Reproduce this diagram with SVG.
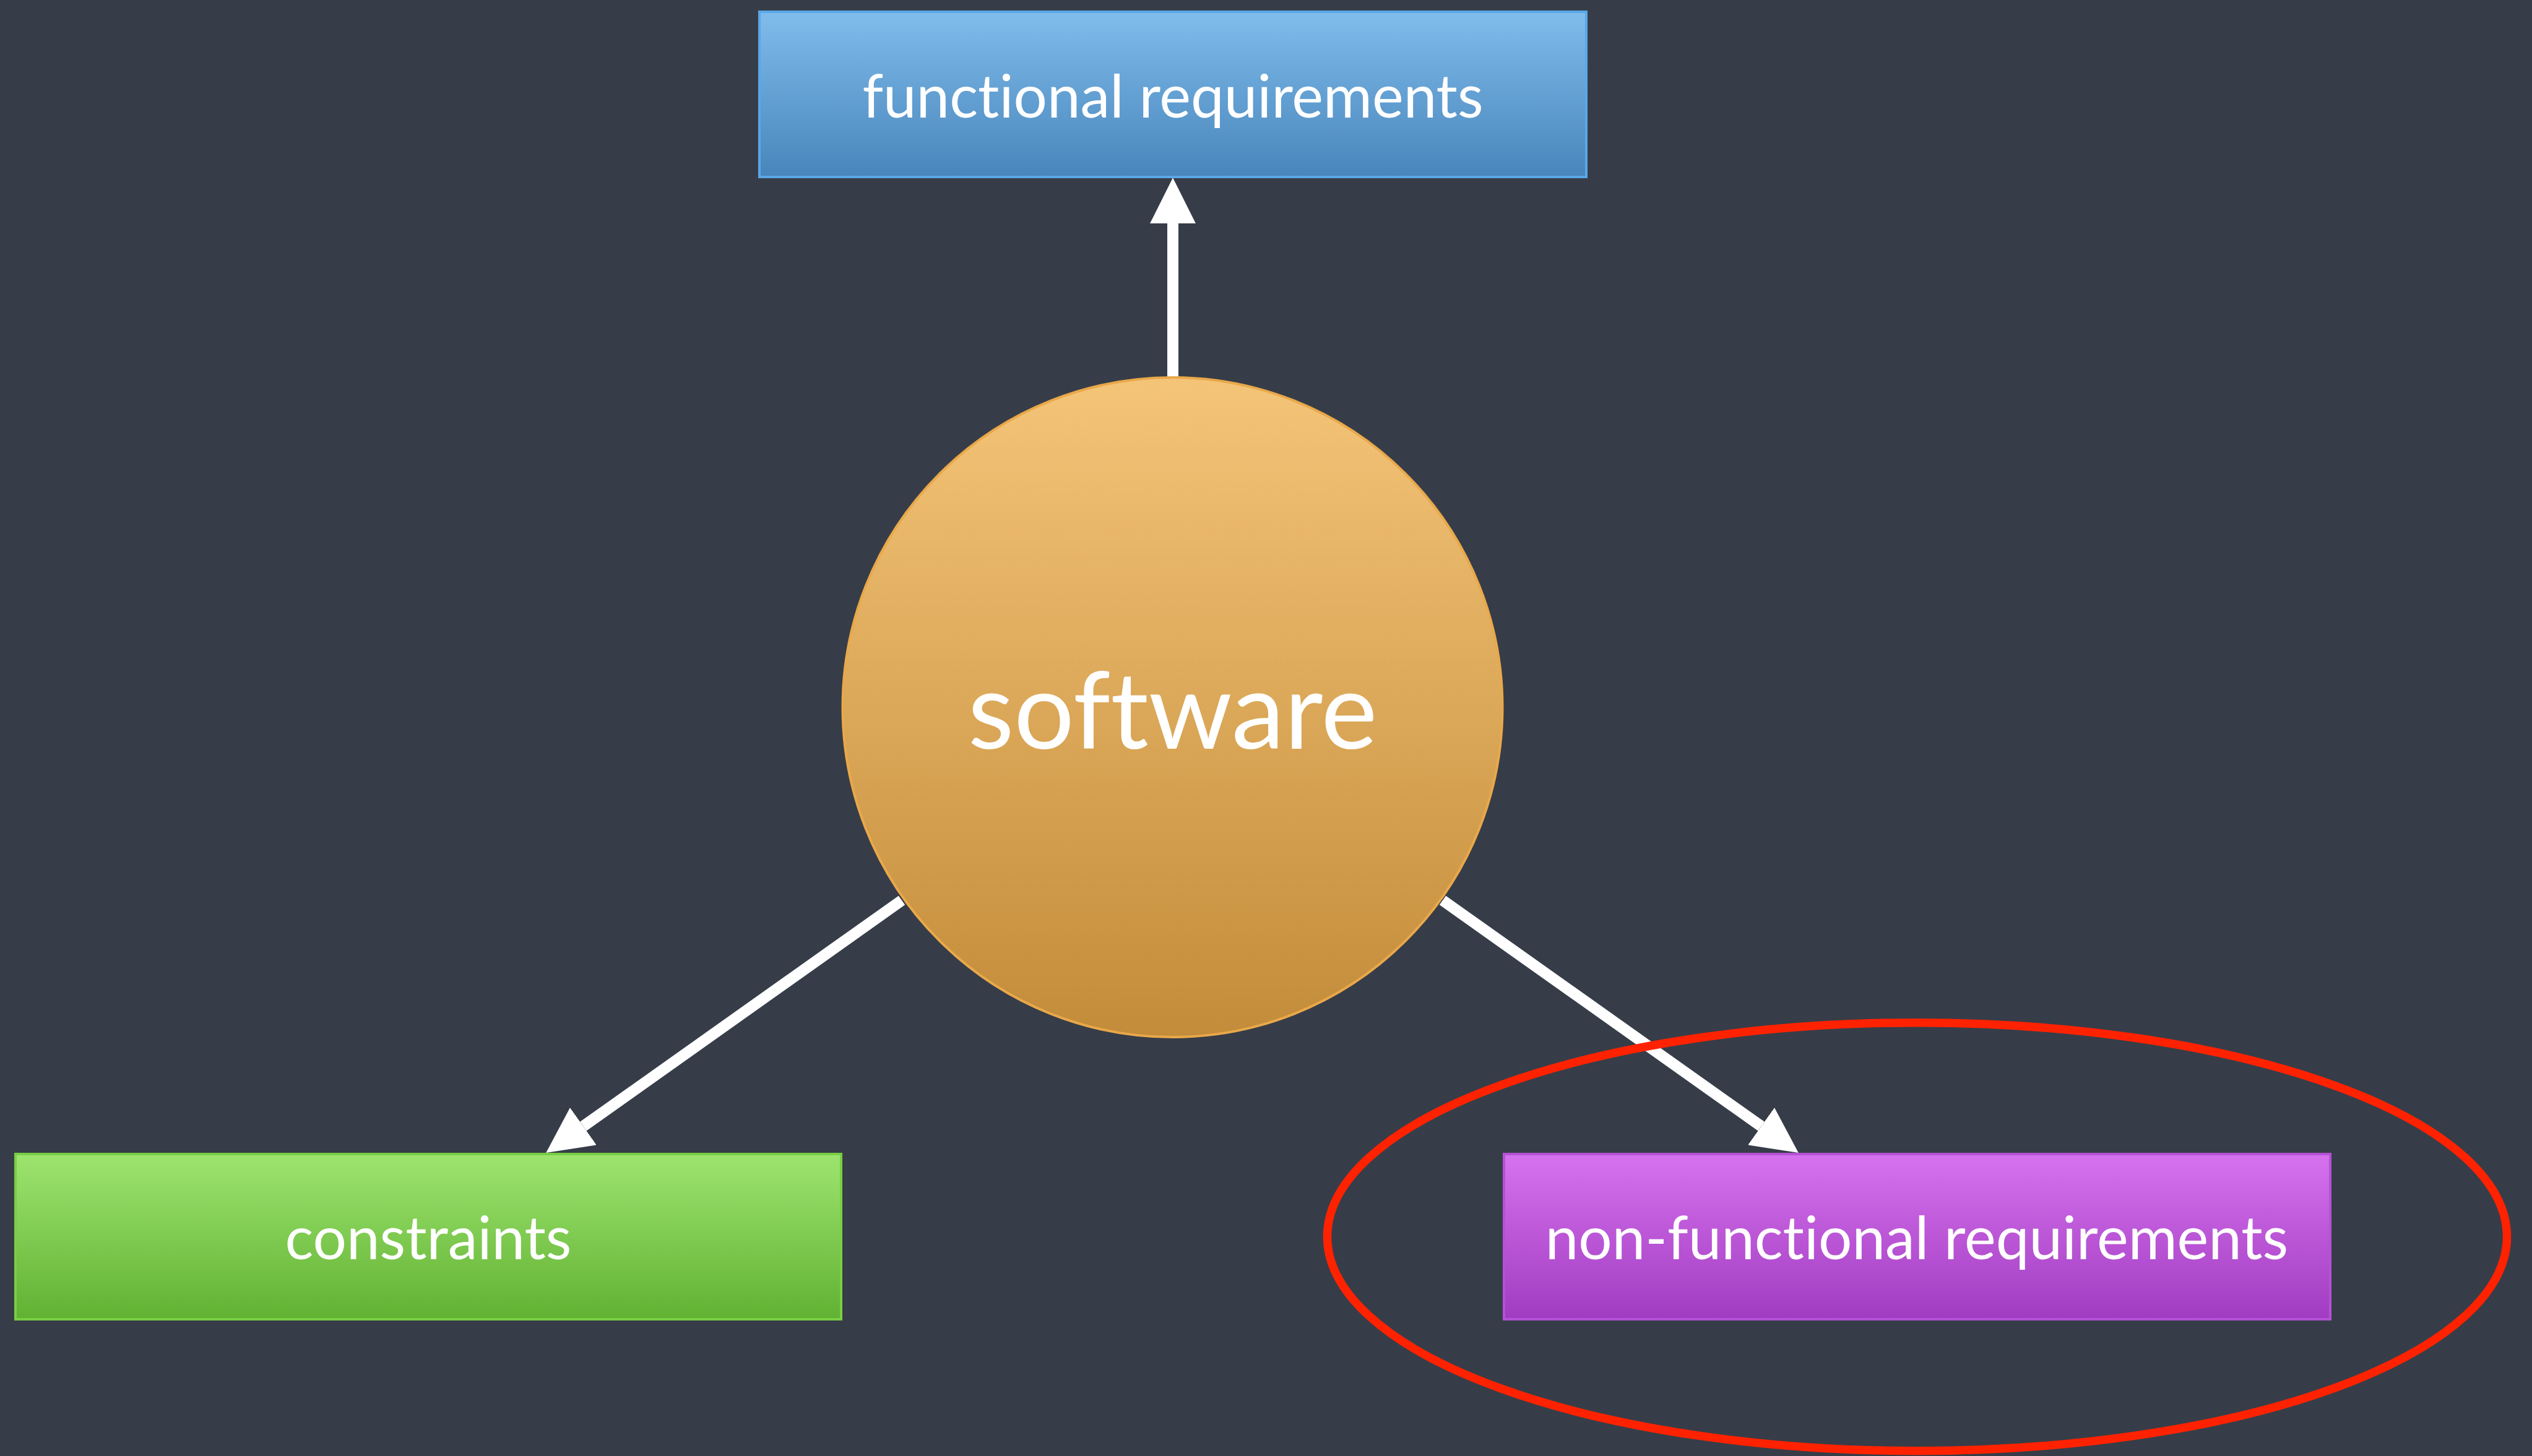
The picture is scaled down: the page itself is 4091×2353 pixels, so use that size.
<svg xmlns="http://www.w3.org/2000/svg" width="4091" height="2353" viewBox="0 0 4091 2353">
  <defs>
    <linearGradient id="gBlue" x1="0" y1="0" x2="0" y2="1">
      <stop offset="0" stop-color="#80bcec"/>
      <stop offset="1" stop-color="#4885ba"/>
    </linearGradient>
    <linearGradient id="gOrange" x1="0" y1="0" x2="0" y2="1">
      <stop offset="0" stop-color="#f4c478"/>
      <stop offset="1" stop-color="#c38c3a"/>
    </linearGradient>
    <linearGradient id="gGreen" x1="0" y1="0" x2="0" y2="1">
      <stop offset="0" stop-color="#9de46f"/>
      <stop offset="1" stop-color="#61b133"/>
    </linearGradient>
    <linearGradient id="gPurple" x1="0" y1="0" x2="0" y2="1">
      <stop offset="0" stop-color="#d672ee"/>
      <stop offset="1" stop-color="#a03cc0"/>
    </linearGradient>
    <marker id="arrow" viewBox="0 0 10 10" refX="0" refY="5" markerWidth="4.1" markerHeight="4.1" orient="auto" markerUnits="strokeWidth">
      <path d="M0,0 L10,5 L0,10 Z" fill="#ffffff"/>
    </marker>
    <style>
      .edge { stroke: #ffffff; stroke-width: 18; fill: none; marker-end: url(#arrow); }
      .label { font-family: Lato, "Liberation Sans", sans-serif; fill: #ffffff; text-anchor: middle; font-variant-ligatures: none; font-feature-settings: "liga" 0, "clig" 0; }
      .box { stroke-width: 4; }
    </style>
  </defs>
  <rect x="0" y="0" width="4091" height="2353" fill="#363d48"/>

  <g id="connectors">
    <path class="edge" d="M1895,612 L1895,361"/>
    <path class="edge" d="M1457,1455 L942.4,1820.2"/>
    <path class="edge" d="M2331,1455 L2845.6,1820.2"/>
  </g>

  <g id="node-software">
    <circle cx="1894.5" cy="1143" r="533" fill="url(#gOrange)" stroke="#e9a84a" stroke-width="4"/>
    <text class="label" x="1894.5" y="1210" font-size="172">software</text>
  </g>

  <g id="node-functional">
    <rect class="box" x="1227" y="19" width="1336" height="267" fill="url(#gBlue)" stroke="#5aa7e9"/>
    <text class="label" x="1895" y="190" font-size="96">functional requirements</text>
  </g>

  <g id="node-constraints">
    <rect class="box" x="25" y="1865" width="1334" height="267" fill="url(#gGreen)" stroke="#78cf42"/>
    <text class="label" x="692" y="2035" font-size="96">constraints</text>
  </g>

  <g id="node-nonfunctional">
    <rect class="box" x="2430" y="1865" width="1335" height="267" fill="url(#gPurple)" stroke="#b451d6"/>
    <text class="label" x="3097" y="2035" font-size="96">non-functional requirements</text>
  </g>

  <g id="highlight">
    <ellipse cx="3097.5" cy="1998.7" rx="953" ry="346" fill="none" stroke="#ff2200" stroke-width="13.5"/>
  </g>
</svg>
